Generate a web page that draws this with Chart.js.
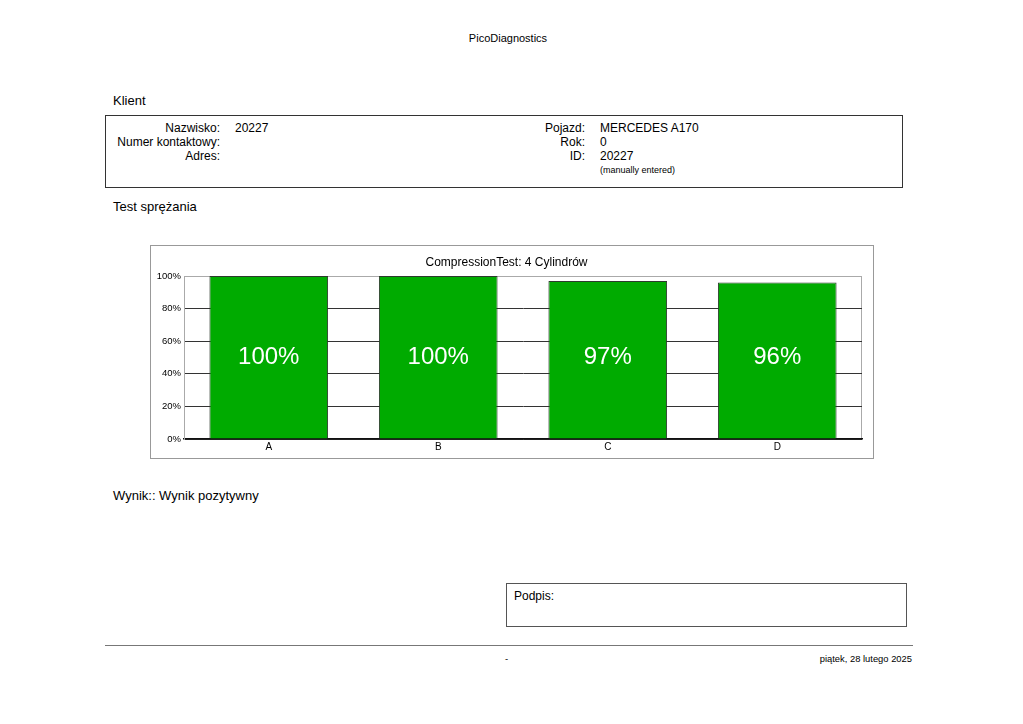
<!DOCTYPE html>
<html>
<head>
<meta charset="utf-8">
<script src="https://cdn.jsdelivr.net/npm/chart.js@4/dist/chart.umd.min.js"></script>
<style>
  html, body { margin: 0; padding: 0; background: #fff; }
  body { width: 1023px; height: 724px; position: relative; overflow: hidden;
         font-family: "Liberation Sans", Arial, sans-serif; color: #000; }
  .t { position: absolute; white-space: nowrap; }
  .box { position: absolute; box-sizing: border-box; }
  .r { text-align: right; }
</style>
</head>
<body>
<div class="t" style="left:0;width:1016px;text-align:center;top:31px;font-size:11px;line-height:14px;">PicoDiagnostics</div>

<div class="t" style="left:113px;top:93px;font-size:13px;line-height:16px;">Klient</div>
<div class="box" style="left:105px;top:115px;width:798px;height:73px;border:1px solid #333;"></div>
<div class="t r" style="left:60px;width:160px;top:121px;font-size:12px;line-height:14px;">Nazwisko:<br>Numer kontaktowy:<br>Adres:</div>
<div class="t" style="left:235px;top:121px;font-size:12px;line-height:14px;">20227</div>
<div class="t r" style="left:425px;width:160px;top:121px;font-size:12px;line-height:14px;">Pojazd:<br>Rok:<br>ID:</div>
<div class="t" style="left:600px;top:121px;font-size:12px;line-height:14px;">MERCEDES A170<br>0<br>20227</div>
<div class="t" style="left:600px;top:164px;font-size:9px;line-height:12px;">(manually entered)</div>

<div class="t" style="left:113px;top:199px;font-size:13px;line-height:16px;">Test sprężania</div>

<div class="box" style="left:150px;top:245px;width:724px;height:214px;border:1px solid #999;">
  <div style="position:absolute;left:0;top:0;width:722px;height:212px;">
    <canvas id="chart"></canvas>
  </div>
</div>

<div class="t" style="left:113px;top:488px;font-size:13px;line-height:16px;">Wynik:: Wynik pozytywny</div>

<div class="box" style="left:506px;top:583px;width:401px;height:44px;border:1px solid #555;"></div>
<div class="t" style="left:514px;top:589px;font-size:12px;line-height:14px;">Podpis:</div>

<div class="box" style="left:105px;top:645px;width:808px;height:0;border-top:1px solid #777;"></div>
<div class="t" style="left:505px;top:653px;font-size:9.4px;line-height:12px;">-</div>
<div class="t r" style="left:700px;width:212px;top:653px;font-size:9.4px;line-height:12px;">piątek, 28 lutego 2025</div>

<script>
const chartTitle = "CompressionTest: 4 Cylindrów";
const cylinders = ["A", "B", "C", "D"];
const compression = [100, 100, 97, 96];
const yTicks = [0, 20, 40, 60, 80, 100];

// plot frame behind the grid
const framePlugin = {
  id: "frame",
  beforeDraw(chart) {
    const { ctx, chartArea: a } = chart;
    ctx.save();
    ctx.strokeStyle = "#aaa";
    ctx.lineWidth = 1;
    ctx.strokeRect(a.left + 0.5, a.top + 0.5, a.right - a.left - 1, a.bottom - a.top);
    ctx.restore();
  }
};

// big white value labels, centred in the plot height
const valuePlugin = {
  id: "values",
  afterDatasetsDraw(chart) {
    const { ctx, chartArea: a } = chart;
    const meta = chart.getDatasetMeta(0);
    const midY = (a.top + a.bottom) / 2;
    ctx.save();
    ctx.fillStyle = "#fff";
    ctx.font = '24px "Liberation Sans", Arial, sans-serif';
    ctx.textAlign = "center";
    ctx.textBaseline = "middle";
    meta.data.forEach((bar, i) => {
      ctx.fillText(compression[i] + "%", bar.x, midY);
    });
    ctx.restore();
  }
};

new Chart(document.getElementById("chart"), {
  type: "bar",
  data: {
    labels: cylinders,
    datasets: [{
      data: compression,
      backgroundColor: "#00ab00",
      borderColor: "#2d3a2d",
      borderWidth: 1,
      borderSkipped: "bottom",
      barPercentage: 0.7,
      categoryPercentage: 1
    }]
  },
  options: {
    responsive: true,
    maintainAspectRatio: false,
    animation: false,
    layout: { padding: { left: 0, right: 11, top: 0, bottom: 0 } },
    plugins: {
      legend: { display: false },
      tooltip: { enabled: false },
      title: {
        display: true,
        text: chartTitle,
        color: "#000",
        font: { family: '"Liberation Sans", Arial, sans-serif', size: 12, weight: "normal" },
        padding: { top: 9, bottom: 6.6 }
      }
    },
    scales: {
      x: {
        grid: { display: false, drawTicks: false },
        border: { display: true, color: "#111", width: 1.5 },
        ticks: {
          color: "#000",
          padding: 2,
          font: { family: '"Liberation Sans", Arial, sans-serif', size: 10 }
        },
        afterFit(scale) { scale.height = 19; }
      },
      y: {
        min: 0,
        max: 100,
        afterBuildTicks(scale) { scale.ticks = yTicks.map(v => ({ value: v })); },
        grid: {
          drawTicks: false,
          color: ctx => (ctx.tick && ctx.tick.value === 100 ? "#aaa" : "#333"),
          lineWidth: 1
        },
        border: { display: true, color: "#aaa", width: 1 },
        ticks: {
          color: "#000",
          padding: 3,
          font: { family: '"Liberation Sans", Arial, sans-serif', size: 9.5 },
          callback: v => v + "%"
        },
        afterFit(scale) { scale.width = 33; }
      }
    }
  },
  plugins: [framePlugin, valuePlugin]
});
</script>
</body>
</html>
